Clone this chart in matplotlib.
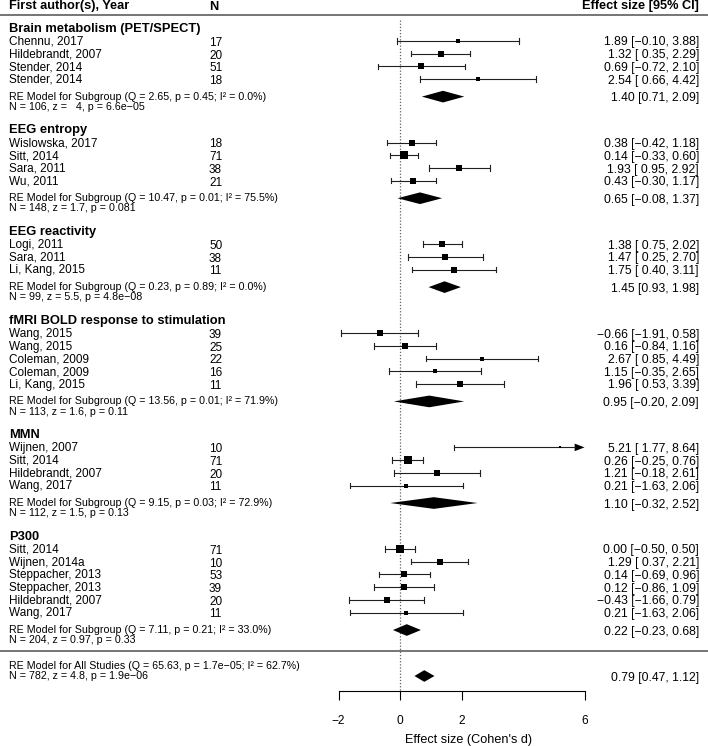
import matplotlib
matplotlib.use("Agg")
import matplotlib.pyplot as plt
import numpy as np

plt.rcParams['font.family'] = ['Liberation Sans', 'DejaVu Sans']

# ---------------- data ----------------
group_names = ["Brain metabolism (PET/SPECT)", "EEG entropy", "EEG reactivity",
               "fMRI BOLD response to stimulation", "MMN", "P300"]

study_labels = [
    ["Chennu, 2017", "Hildebrandt, 2007", "Stender, 2014", "Stender, 2014"],
    ["Wislowska, 2017", "Sitt, 2014", "Sara, 2011", "Wu, 2011"],
    ["Logi, 2011", "Sara, 2011", "Li, Kang, 2015"],
    ["Wang, 2015", "Wang, 2015", "Coleman, 2009", "Coleman, 2009", "Li, Kang, 2015"],
    ["Wijnen, 2007", "Sitt, 2014", "Hildebrandt, 2007", "Wang, 2017"],
    ["Sitt, 2014", "Wijnen, 2014a", "Steppacher, 2013", "Steppacher, 2013",
     "Hildebrandt, 2007", "Wang, 2017"],
]
study_n = [
    [17, 20, 51, 18],
    [18, 71, 38, 21],
    [50, 38, 11],
    [39, 25, 22, 16, 11],
    [10, 71, 20, 11],
    [71, 10, 53, 39, 20, 11],
]
study_est = [
    [1.89, 1.32, 0.69, 2.54],
    [0.38, 0.14, 1.93, 0.43],
    [1.38, 1.47, 1.75],
    [-0.66, 0.16, 2.67, 1.15, 1.96],
    [5.21, 0.26, 1.21, 0.21],
    [0.00, 1.29, 0.14, 0.12, -0.43, 0.21],
]
study_lb = [
    [-0.10, 0.35, -0.72, 0.66],
    [-0.42, -0.33, 0.95, -0.30],
    [0.75, 0.25, 0.40],
    [-1.91, -0.84, 0.85, -0.35, 0.53],
    [1.77, -0.25, -0.18, -1.63],
    [-0.50, 0.37, -0.69, -0.86, -1.66, -1.63],
]
study_ub = [
    [3.88, 2.29, 2.10, 4.42],
    [1.18, 0.60, 2.92, 1.17],
    [2.02, 2.70, 3.11],
    [0.58, 1.16, 4.49, 2.65, 3.39],
    [8.64, 0.76, 2.61, 2.06],
    [0.50, 2.21, 0.96, 1.09, 0.79, 2.06],
]

sub_est = [1.40, 0.65, 1.45, 0.95, 1.10, 0.22]
sub_lb = [0.71, -0.08, 0.93, -0.20, -0.32, -0.23]
sub_ub = [2.09, 1.37, 1.98, 2.09, 2.52, 0.68]
sub_Q = ["2.65", "10.47", "0.23", "13.56", "9.15", "7.11"]
sub_pQ = ["0.45", "0.01", "0.89", "0.01", "0.03", "0.21"]
sub_I2 = ["0.0", "75.5", "0.0", "71.9", "72.9", "33.0"]
sub_N = [106, 148, 99, 113, 112, 204]
sub_z = ["  4", "1.7", "5.5", "1.6", "1.5", "0.97"]
sub_pz = ["6.6e\u221205", "0.081", "4.8e\u221208", "0.11", "0.13", "0.33"]

all_est, all_lb, all_ub = 0.79, 0.47, 1.12
all_Q, all_pQ, all_I2 = "65.63", "1.7e\u221205", "62.7"
all_N, all_z, all_pz = 782, "4.8", "1.9e\u221206"

x_ticks = [-2, 0, 2, 6]
x_label = "Effect size (Cohen's d)"
col_study = "First author(s), Year"
col_n = "N"
col_es = "Effect size [95% CI]"

# ---------------- layout ----------------
W, H = 708, 746
PX_PER_UNIT = 30.75
X0_PX = 400.0
ROW0_PX = 41.0
ROW_PX = 12.7


def px2x(px):
    return (px - X0_PX) / PX_PER_UNIT


def py2r(py):
    return (py - ROW0_PX) / ROW_PX


fig = plt.figure(figsize=(W / 100, H / 100), dpi=100)
ax = fig.add_axes([0, 0, 1, 1])
ax.set_xlim(px2x(0), px2x(W))
ax.set_ylim(py2r(H), py2r(0))
for s in ['top', 'left', 'right']:
    ax.spines[s].set_visible(False)
ax.yaxis.set_visible(False)
ax.patch.set_alpha(0)

alim_lo, alim_hi = min(x_ticks), max(x_ticks)
axis_row = py2r(691)
ax.spines['bottom'].set_position(('data', axis_row))
ax.spines['bottom'].set_bounds(alim_lo, alim_hi)
ax.spines['bottom'].set_linewidth(0.8)
ax.set_xticks(x_ticks)
ax.set_xticklabels([("\u2212" + str(abs(t))) if t < 0 else str(t) for t in x_ticks])
ax.tick_params(axis='x', direction='out', length=6.5, width=0.8, labelsize=8.6, pad=10.8)

x_left = px2x(9)
x_n = px2x(209)
x_right = px2x(699)
FS = 8.5
FS_R = 8.7
FS_RE = 7.7
FS_HEAD = 9.3


def fmt(v, pad=False):
    s = f"{abs(v):.2f}"
    if v < 0:
        return "\u2212" + s
    return (" " + s) if pad else s


# column headers
hdr_row = py2r(5)
ax.text(x_left, hdr_row, col_study, fontsize=9.2, fontweight='bold', ha='left', va='center_baseline')
ax.text(x_n, hdr_row, col_n, fontsize=9.2, fontweight='bold', ha='left', va='center_baseline')
ax.text(x_right, hdr_row, col_es, fontsize=9.2, fontweight='bold', ha='right', va='center_baseline')
line_col = '#505050'
ax.plot([px2x(0), px2x(W)], [py2r(15), py2r(15)], color=line_col, lw=1.1, clip_on=False)

# weights for square size (inverse standard error)
all_se = [(u - l) / 3.92 for gl, gu in zip(study_lb, study_ub) for l, u in zip(gl, gu)]
wi_all = 1.0 / np.array(all_se)
wmin, wmax = wi_all.min(), wi_all.max()
SMIN, SMAX = 2.4, 7.3  # px


def sq_size_pt2(l, u):
    w = 1.0 / ((u - l) / 3.92)
    side_px = SMIN + (SMAX - SMIN) * ((w - wmin) / (wmax - wmin)) ** 0.4
    return (side_px * 0.72) ** 2


start = 0
cap = 0.22
dh = 0.46
last_row = 0
for g in range(len(group_names)):
    k = len(study_labels[g])
    rows = np.arange(start, start + k)
    ax.text(x_left, start - 1.08, group_names[g], fontsize=FS_HEAD, fontweight='bold',
            ha='left', va='center_baseline')
    for i, r in enumerate(rows):
        est, lb, ub = study_est[g][i], study_lb[g][i], study_ub[g][i]
        ax.text(x_left, r - 0.05, study_labels[g][i], fontsize=FS, ha='left', va='center_baseline')
        ax.text(x_n, r + 0.03, str(study_n[g][i]), fontsize=FS, ha='left', va='center_baseline')
        ax.text(x_right, r, f"{fmt(est)} [{fmt(lb, True)}, {fmt(ub)}]", fontsize=FS_R,
                ha='right', va='center_baseline')
        lo = max(lb, alim_lo)
        hi = min(ub, alim_hi)
        if ub > alim_hi:
            alen = 0.32
            ax.plot([lo, hi - alen], [r, r], color='#202020', lw=0.8)
            ax.fill([hi, hi - alen, hi - alen], [r, r - 0.3, r + 0.3], color='black', lw=0)
        else:
            ax.plot([lo, hi], [r, r], color='#202020', lw=0.8)
            ax.plot([hi, hi], [r - cap, r + cap], color='#202020', lw=0.8)
        if lb >= alim_lo:
            ax.plot([lo, lo], [r - cap, r + cap], color='#202020', lw=0.8)
        ax.scatter([est], [r], marker='s', s=sq_size_pt2(lb, ub), color='black', lw=0, zorder=3)
    d = rows[-1] + 1.38
    ax.fill([sub_lb[g], sub_est[g], sub_ub[g], sub_est[g]], [d, d - dh, d, d + dh],
            color='black', lw=0, zorder=3)
    ax.text(x_left, d - 0.08,
            f"RE Model for Subgroup (Q = {sub_Q[g]}, p = {sub_pQ[g]}; I\u00b2 = {sub_I2[g]}%)",
            fontsize=FS_RE, ha='left', va='center_baseline')
    ax.text(x_left, d + 0.73, f"N = {sub_N[g]}, z = {sub_z[g]}, p = {sub_pz[g]}",
            fontsize=FS_RE, ha='left', va='center_baseline')
    ax.text(x_right, d, f"{fmt(sub_est[g])} [{fmt(sub_lb[g])}, {fmt(sub_ub[g])}]",
            fontsize=FS_R, ha='right', va='center_baseline')
    last_row = rows[-1]
    start = start + k + 4

sep_row = last_row + 3
ax.plot([px2x(0), px2x(W)], [sep_row, sep_row], color=line_col, lw=1.1, clip_on=False)
d = last_row + 5
ax.fill([all_lb, all_est, all_ub, all_est], [d, d - dh, d, d + dh], color='black', lw=0, zorder=3)
ax.text(x_left, d - 0.84,
        f"RE Model for All Studies (Q = {all_Q}, p = {all_pQ}; I\u00b2 = {all_I2}%)",
        fontsize=FS_RE, ha='left', va='center_baseline')
ax.text(x_left, d - 0.04, f"N = {all_N}, z = {all_z}, p = {all_pz}",
        fontsize=FS_RE, ha='left', va='center_baseline')
ax.text(x_right, d, f"{fmt(all_est)} [{fmt(all_lb)}, {fmt(all_ub)}]",
        fontsize=FS_R, ha='right', va='center_baseline')

# reference line
ax.plot([0, 0], [py2r(20), axis_row], color='#606060', lw=0.9, ls=(0, (1, 1.5)), zorder=1)

# x label
ax.text(px2x(468.5), py2r(739), x_label, fontsize=9.1, ha='center', va='center_baseline')

fig.savefig("out.png", dpi=100)
